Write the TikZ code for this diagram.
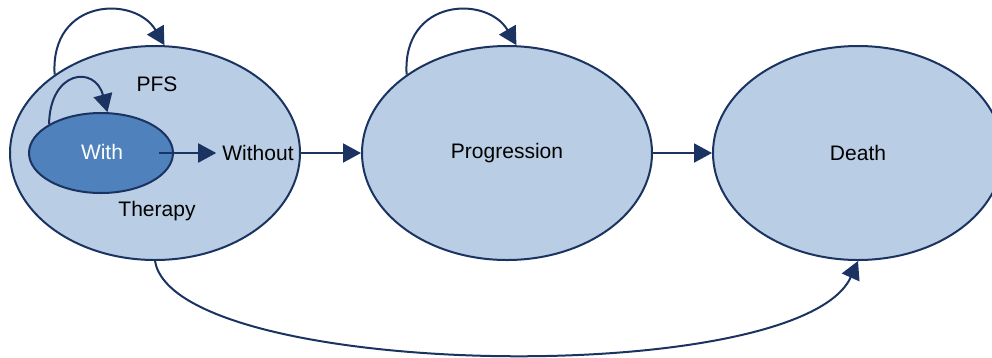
\documentclass[tikz,border=0pt]{standalone}
\usepackage{fontspec}
\setmainfont{Liberation Sans}
\usetikzlibrary{shapes.geometric,arrows.meta}
\definecolor{lightfill}{HTML}{B9CDE5}
\definecolor{darkfill}{HTML}{4F81BD}
\definecolor{navy}{HTML}{1A3360}
\begin{document}
\begin{tikzpicture}[x=1pt,y=-1pt,
  state/.style={ellipse,draw=navy,line width=2pt,fill=lightfill,inner sep=0pt,
    minimum width=290pt,minimum height=214pt},
  inner/.style={ellipse,draw=navy,line width=2pt,fill=darkfill,inner sep=0pt,
    minimum width=144pt,minimum height=80pt},
  lbl/.style={font=\fontsize{21}{25}\selectfont,text=black,inner sep=0pt},
  conn/.style={draw=navy,line width=2pt,-{Triangle[length=18pt,width=19pt]}}]
\useasboundingbox (0,0) rectangle (992,357);
\node[state] (pfs) at (155,153) {};
\node[state] (prog) at (507,153) {};
\node[state] (death) at (858,153) {};
\node[inner] (with) at (101,153) {};
\node[lbl,text=white] (withtxt) at (102,152) {With};
\node[lbl] (pfstxt) at (157,84) {PFS};
\node[lbl] (therapy) at (157,211) {Therapy};
\node[lbl,inner sep=6pt] (without) at (258,153) {Without};
\node[lbl] (progtxt) at (507,153) {Progression};
\node[lbl] (deathtxt) at (858,153) {Death};
% self loops
\draw[conn] (pfs.142) .. controls (50,-2) and (135,-5) .. (pfs.85);
\draw[conn] (prog.142) .. controls (402,-2) and (487,-5) .. (prog.85);
\draw[conn] (with.151) .. controls (50,70) and (95,65) .. (with.81);
% transitions
\draw[conn] ([xshift=-15pt]with.east) -- (without.west);
\draw[conn] (pfs.east) -- (prog.west);
\draw[conn] (prog.east) -- (death.west);
\draw[conn] (pfs.270) .. controls (175,380) and (800,390) .. (death.270);
\end{tikzpicture}
\end{document}
